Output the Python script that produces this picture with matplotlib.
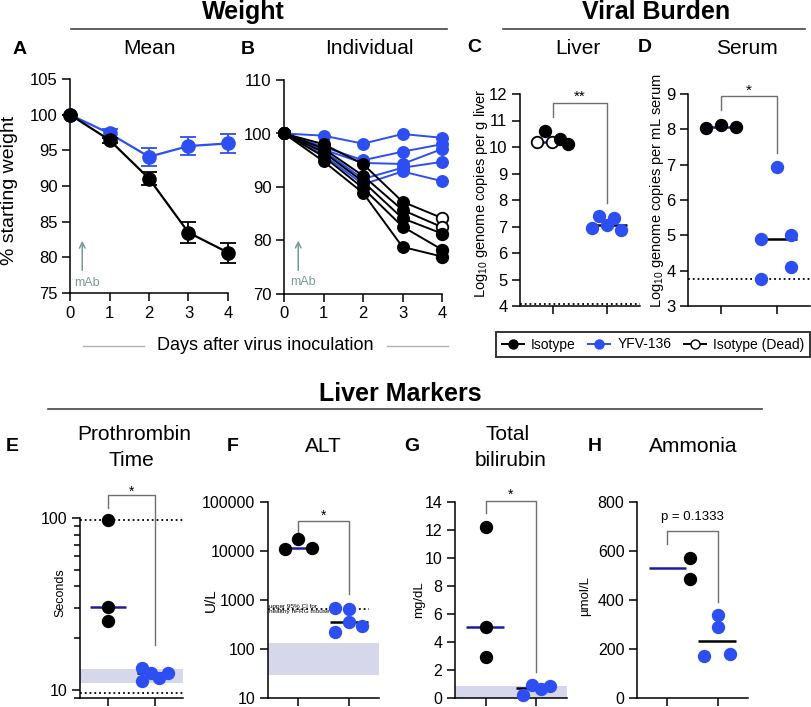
import matplotlib
matplotlib.use('Agg')
import matplotlib.pyplot as plt
from matplotlib.lines import Line2D
from matplotlib.ticker import LogLocator, NullFormatter, FixedLocator, FixedFormatter

plt.rcParams['font.family'] = ['Liberation Sans', 'DejaVu Sans']
plt.rcParams['mathtext.fontset'] = 'custom'
plt.rcParams['mathtext.rm'] = 'Liberation Sans'
plt.rcParams['mathtext.it'] = 'Liberation Sans:italic'
plt.rcParams['axes.linewidth'] = 1.1

# ---------------- data ----------------
days = [0, 1, 2, 3, 4]
iso_mean = [100, 96.44, 91.05, 83.47, 80.67]
iso_sem = [0.0, 0.35, 0.9, 1.45, 1.4]
yfv_mean = [100, 97.37, 94.1, 95.6, 95.97]
yfv_sem = [0.0, 0.6, 1.25, 1.2, 1.35]

iso_ind = [
    [100, 98.0, 94.3, 87.25, 84.2],
    [100, 97.2, 92.1, 85.7, 82.5],
    [100, 96.5, 91.0, 84.15, 81.3],
    [100, 95.7, 89.8, 82.6, 78.3],
    [100, 94.8, 88.9, 78.8, 77.0],
]
iso_dead = [True, True, False, False, False]
yfv_ind = [
    [100, 99.6, 98.1, 99.9, 99.2],
    [100, 97.5, 95.0, 96.6, 98.0],
    [100, 97.0, 94.5, 94.3, 97.1],
    [100, 96.8, 91.5, 93.6, 94.7],
    [100, 96.0, 90.5, 92.9, 91.1],
]

# C liver viral burden (log10 copies / g)
c_iso = [10.17, 10.61, 10.17, 10.30, 10.12]
c_iso_dead = [True, False, True, False, False]
c_yfv = [6.96, 7.38, 7.06, 7.31, 6.87]
c_lod = 4.07
# D serum
d_iso = [8.03, 8.13, 8.07]
d_yfv = [4.90, 6.92, 5.01, 3.76, 4.10]
d_lod = 3.76
# E prothrombin time (s)
e_iso = [97, 30.5, 25.2]
e_yfv = [13.4, 12.5, 12.5, 11.3, 11.7]
e_limits = [97, 9.65]
e_band = [11.0, 13.2]
# F ALT (U/L)
f_iso = [10900, 17400, 11600]
f_yfv = [698, 646, 363, 227, 296]
f_ci = 660
f_band = [29, 135]
# G bilirubin (mg/dL)
g_iso = [12.2, 5.1, 2.95]
g_yfv = [0.19, 0.9, 0.62, 0.86]
g_band = [0, 0.88]
# H ammonia (umol/L)
h_iso = [573, 484]
h_iso_center = 530
h_yfv = [171, 337, 290, 178]
h_yfv_center = 234

# x offsets of dots within each group (layout)
c_iso_dx = [-0.29, -0.15, -0.01, 0.13, 0.28]
c_yfv_dx = [-0.28, -0.15, 0.0, 0.13, 0.26]
d_iso_dx = [-0.27, 0.0, 0.27]
d_yfv_dx = [-0.29, 0.0, 0.26, -0.29, 0.26]
e_iso_dx = [0, 0, 0]
e_yfv_dx = [-0.27, -0.08, 0.29, -0.27, 0.09]
f_iso_dx = [-0.27, 0.0, 0.28]
f_yfv_dx = [-0.27, 0.0, 0.0, -0.27, 0.27]
g_iso_dx = [0, 0, 0]
g_yfv_dx = [-0.27, -0.09, 0.08, 0.27]
h_iso_dx = [0.46, 0.46]
h_yfv_dx = [-0.28, 0.0, 0.0, 0.25]

# ---------------- style ----------------
W, H = 812, 707
fig = plt.figure(figsize=(W / 100, H / 100), dpi=100)
BLUE = '#2c4ef2'
NAVY = '#1d1da0'
BAND = '#d6d7ea'
GRAY = '#707070'
ARROW = '#7a9999'
MS = 8.3


def ax_px(l, r, t, b):
    return fig.add_axes([l / W, 1 - b / H, (r - l) / W, (b - t) / H])


def ftext(x, y, s, **kw):
    ha = kw.pop('ha', 'center')
    va = kw.pop('va', 'center')
    fig.text(x / W, 1 - y / H, s, ha=ha, va=va, **kw)


def fline(x0, x1, y, color='#444444', lw=1.2):
    fig.add_artist(Line2D([x0 / W, x1 / W], [1 - y / H, 1 - y / H], color=color, lw=lw))


def style(ax, fs=11.5):
    for s in ['top', 'right']:
        ax.spines[s].set_visible(False)
    ax.tick_params(axis='both', length=6, width=1.1, labelsize=fs, pad=3)
    ax.tick_params(axis='y', which='minor', length=4, width=1.1)


def dots(ax, xc, vals, dx, color, dead=None, z=3):
    for i, v in enumerate(vals):
        face = 'white' if (dead is not None and dead[i]) else color
        ax.plot(xc + dx[i], v, 'o', ms=MS, mfc=face, mec='black' if color == 'black' else color,
                mew=1.3, zorder=z, clip_on=False)


def median(ax, xc, y, x0, x1, color, lw=1.8):
    ax.plot([xc + x0, xc + x1], [y, y], color=color, lw=lw, zorder=2.5, solid_capstyle='butt')


def bracket(ax, y_top, y_left, y_right, label, y_lab, fs=11):
    ax.plot([1, 1, 2, 2], [y_left, y_top, y_top, y_right], color=GRAY, lw=1.0, clip_on=False, zorder=1)
    ax.text(1.5, y_lab, label, ha='center', va='center', fontsize=fs, clip_on=False)


def dotplot_axes(ax):
    ax.set_xlim(0.4, 2.6)
    ax.set_xticks([1, 2])
    ax.set_xticklabels([])


# ---------------- Panel A ----------------
axA = ax_px(70, 228, 79, 293)
style(axA, 12)
axA.errorbar(days, yfv_mean, yerr=yfv_sem, color=BLUE, marker='o', ms=9.5, lw=1.6,
             capsize=5.5, capthick=1.3, elinewidth=1.3, clip_on=False, zorder=3)
axA.errorbar(days, iso_mean, yerr=iso_sem, color='black', marker='o', ms=9.5, lw=1.6,
             capsize=5.5, capthick=1.3, elinewidth=1.3, clip_on=False, zorder=4)
axA.set_xlim(0, 4)
axA.set_ylim(75, 105)
axA.set_yticks([75, 80, 85, 90, 95, 100, 105])
axA.set_xticks(days)
axA.annotate('', xy=(0.31, 82.7), xytext=(0.31, 77.8),
             arrowprops=dict(arrowstyle='->', color=ARROW, lw=1.1))
axA.text(0.1, 76.4, 'mAb', color=ARROW, fontsize=9, ha='left', va='center')

# ---------------- Panel B ----------------
axB = ax_px(284, 442, 80, 294)
style(axB, 12)
for row in yfv_ind:
    axB.plot(days, row, color=BLUE, marker='o', ms=8.3, lw=1.4, clip_on=False, zorder=3)
for row, dead in zip(iso_ind, iso_dead):
    axB.plot(days, row, color='black', lw=1.4, clip_on=False, zorder=4)
    axB.plot(days[:-1], row[:-1], 'o', color='black', ms=8.3, clip_on=False, zorder=4)
    axB.plot(days[-1], row[-1], 'o', mfc='white' if dead else 'black', mec='black',
             mew=1.3, ms=8.3, clip_on=False, zorder=4)
axB.set_xlim(0, 4)
axB.set_ylim(70, 110)
axB.set_yticks([70, 80, 90, 100, 110])
axB.set_xticks(days)
axB.annotate('', xy=(0.36, 80.5), xytext=(0.36, 73.9),
             arrowprops=dict(arrowstyle='->', color=ARROW, lw=1.1))
axB.text(0.15, 72.2, 'mAb', color=ARROW, fontsize=9, ha='left', va='center')

# ---------------- Panel C ----------------
axC = ax_px(520, 640, 94, 306)
style(axC, 12)
dotplot_axes(axC)
axC.set_ylim(4, 12)
axC.set_yticks(range(4, 13))
axC.axhline(c_lod, color='black', ls=':', lw=1.3, zorder=1)
median(axC, 1, sorted(c_iso)[2], -0.3, 0.3, NAVY)
median(axC, 2, sorted(c_yfv)[2], -0.28, 0.36, 'black')
dots(axC, 1, c_iso, c_iso_dx, 'black', dead=c_iso_dead)
dots(axC, 2, c_yfv, c_yfv_dx, BLUE)
bracket(axC, 11.66, 11.13, 7.88, '**', 11.9, fs=11)

# ---------------- Panel D ----------------
axD = ax_px(688, 810, 94, 306)
style(axD, 12)
dotplot_axes(axD)
axD.set_ylim(3, 9)
axD.set_yticks(range(3, 10))
axD.axhline(d_lod, color='black', ls=':', lw=1.3, zorder=1)
median(axD, 1, sorted(d_iso)[1], -0.25, 0.25, NAVY)
median(axD, 2, sorted(d_yfv)[2], -0.29, 0.36, 'black')
dots(axD, 1, d_iso, d_iso_dx, 'black')
dots(axD, 2, d_yfv, d_yfv_dx, BLUE)
bracket(axD, 8.93, 8.56, 7.33, '*', 9.08, fs=11)

# ---------------- Panel E ----------------
axE = ax_px(80, 183, 518, 698)
style(axE, 11.5)
dotplot_axes(axE)
axE.set_yscale('log')
axE.set_ylim(9, 100)
axE.yaxis.set_major_locator(FixedLocator([10, 100]))
axE.yaxis.set_major_formatter(FixedFormatter(['10', '100']))
axE.yaxis.set_minor_locator(LogLocator(base=10, subs=range(2, 10)))
axE.yaxis.set_minor_formatter(NullFormatter())
axE.axhspan(e_band[0], e_band[1], color=BAND, lw=0, zorder=0)
for v in e_limits:
    axE.axhline(v, color='black', ls=':', lw=1.3, zorder=1)
median(axE, 1, sorted(e_iso)[1], -0.38, 0.38, NAVY)
median(axE, 2, sorted(e_yfv)[2], -0.38, 0.2, 'black')
dots(axE, 1, e_iso, e_iso_dx, 'black')
dots(axE, 2, e_yfv, e_yfv_dx, BLUE)
bracket(axE, 136, 114, 18.2, '*', 142, fs=10)

# ---------------- Panel F ----------------
axF = ax_px(268, 379, 502, 698)
style(axF, 11.5)
dotplot_axes(axF)
axF.set_yscale('log')
axF.set_ylim(10, 100000)
axF.yaxis.set_major_locator(FixedLocator([10, 100, 1000, 10000, 100000]))
axF.yaxis.set_major_formatter(FixedFormatter(['10', '100', '1000', '10000', '100000']))
axF.yaxis.set_minor_locator(FixedLocator([]))
axF.axhspan(f_band[0], f_band[1], color=BAND, lw=0, zorder=0)
axF.plot([0.4, 2.4], [f_ci, f_ci], color='black', ls=':', lw=1.3, zorder=1)
axF.text(0.42, f_ci, 'upper 95% CI for\nhealthy hFRG mouse', fontsize=4.6,
         ha='left', va='center', linespacing=0.9, zorder=1)
median(axF, 1, sorted(f_iso)[1], -0.28, 0.28, NAVY)
median(axF, 2, sorted(f_yfv)[2], -0.37, 0.39, 'black')
dots(axF, 1, f_iso, f_iso_dx, 'black')
dots(axF, 2, f_yfv, f_yfv_dx, BLUE)
bracket(axF, 40000, 21000, 1330, '*', 52000, fs=10)

# ---------------- Panel G ----------------
axG = ax_px(455, 567, 502, 698)
style(axG, 11.5)
dotplot_axes(axG)
axG.set_ylim(0, 14)
axG.set_yticks(range(0, 15, 2))
axG.axhspan(g_band[0], g_band[1], color=BAND, lw=0, zorder=0)
median(axG, 1, sorted(g_iso)[1], -0.38, 0.37, NAVY)
median(axG, 2, 0.74, -0.4, 0.25, 'black')
dots(axG, 1, g_iso, g_iso_dx, 'black')
dots(axG, 2, g_yfv, g_yfv_dx, BLUE)
bracket(axG, 14.1, 13.2, 1.86, '*', 14.5, fs=10)

# ---------------- Panel H ----------------
axH = ax_px(637, 748, 502, 698)
style(axH, 11.5)
dotplot_axes(axH)
axH.set_ylim(0, 800)
axH.set_yticks(range(0, 801, 200))
median(axH, 1, h_iso_center, -0.37, 0.38, NAVY)
median(axH, 2, h_yfv_center, -0.39, 0.36, 'black')
dots(axH, 1, h_iso, h_iso_dx, 'black')
dots(axH, 2, h_yfv, h_yfv_dx, BLUE)
bracket(axH, 680, 630, 392, '', 0)
axH.text(1.5, 739, 'p = 0.1333', ha='center', va='center', fontsize=9.5)

# ---------------- Texts ----------------
ftext(243, 12, 'Weight', fontsize=18, fontweight='bold')
ftext(656, 12, 'Viral Burden', fontsize=18, fontweight='bold')
ftext(400, 394, 'Liver Markers', fontsize=18, fontweight='bold')
fline(71, 447, 29)
fline(503, 805, 29)
fline(48, 762, 409)

for x, y, s in [(20, 49, 'A'), (248, 49, 'B'), (474, 48, 'C'), (645, 48, 'D'),
                (12, 447, 'E'), (233, 447, 'F'), (412, 447, 'G'), (595, 447, 'H')]:
    ftext(x, y, s, fontsize=14, fontweight='bold')

for x, y, s in [(150, 49, 'Mean'), (369, 49, 'Individual'), (578, 48, 'Liver'),
                (747, 48, 'Serum'), (134, 434, 'Prothrombin'), (131, 460, 'Time'),
                (323, 447, 'ALT'), (508, 434, 'Total'), (511, 460, 'bilirubin'),
                (693, 447, 'Ammonia')]:
    ftext(x, y, s, fontsize=15)

ftext(10, 190, '% starting weight', fontsize=14, rotation=90)
ftext(481, 193, 'Log$_{10}$ genome copies per g liver', fontsize=10.5, rotation=90)
ftext(657, 191, 'Log$_{10}$ genome copies per mL serum', fontsize=10.5, rotation=90)
ftext(60, 593, 'Seconds', fontsize=9, rotation=90)
ftext(211, 600, 'U/L', fontsize=11, rotation=90)
ftext(419, 600, 'mg/dL', fontsize=9.5, rotation=90)
ftext(585, 596, '\u00b5mol/L', fontsize=9.5, rotation=90)

ftext(265, 346, 'Days after virus inoculation', fontsize=13)
fline(83, 144, 346, color='#b0b0b0', lw=1.0)
fline(387, 448, 346, color='#b0b0b0', lw=1.0)

# ---------------- Legend ----------------
handles = [
    Line2D([], [], color='black', marker='o', ms=6.5, lw=1.4),
    Line2D([], [], color=BLUE, marker='o', ms=6.5, lw=1.4),
    Line2D([], [], color='black', marker='o', ms=6.5, mfc='white', lw=1.4),
]
leg = fig.legend(handles, ['Isotype', 'YFV-136', 'Isotype (Dead)'], ncol=3,
                 loc='center', bbox_to_anchor=(653 / W, 1 - 344.5 / H), fontsize=10,
                 frameon=True, fancybox=False, handlelength=1.6, handletextpad=0.5,
                 columnspacing=0.9, borderpad=0.4, borderaxespad=0.0, edgecolor='black')
leg.get_frame().set_linewidth(1.4)

fig.savefig('out.png', dpi=100)
